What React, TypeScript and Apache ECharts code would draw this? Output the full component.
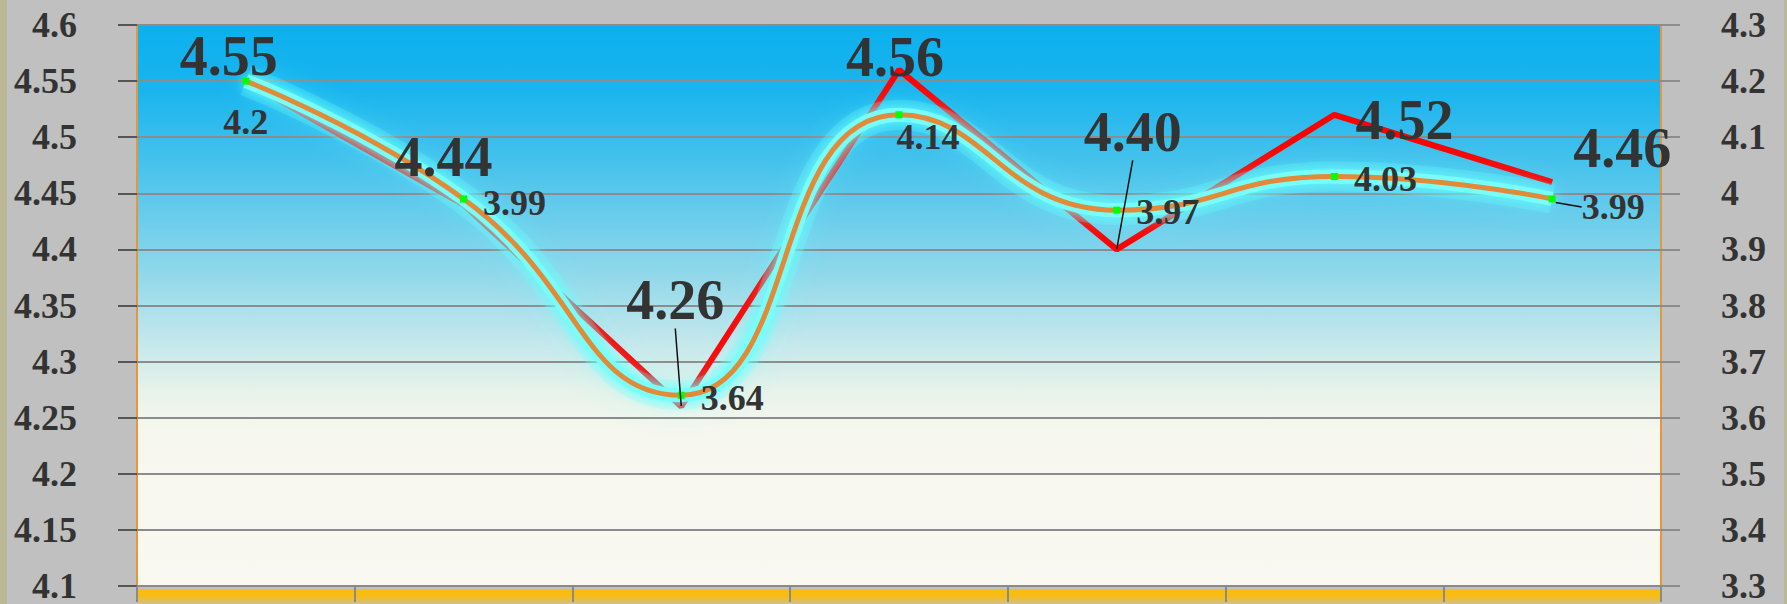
import React, { useEffect, useRef } from 'react';
import * as echarts from 'echarts';

const categories = ['1', '2', '3', '4', '5', '6', '7'];
const redValues = [4.55, 4.44, 4.26, 4.56, 4.4, 4.52, 4.46];
const orangeValues = [4.2, 3.99, 3.64, 4.14, 3.97, 4.03, 3.99];
const leftTicks = [4.1, 4.15, 4.2, 4.25, 4.3, 4.35, 4.4, 4.45, 4.5, 4.55, 4.6];
const rightTicks = [3.3, 3.4, 3.5, 3.6, 3.7, 3.8, 3.9, 4.0, 4.1, 4.2, 4.3];

// label placement (pixels, relative to the point)
const redLabelOffsets = [[-17, -25], [-20, -48], [-6, -106], [-4, -13], [16, -117], [70, 5], [70, -34]];
const orangeLabelOffsets = [[0, 41], [51, 4], [51, 3], [29, 22], [51, 2], [51, 3], [61, 8]];
const redLeaders = [2, 4];
const orangeLeaders = [6];

const FONT = '"Times New Roman", "Liberation Serif", serif';
const fmt = (v: number) => String(parseFloat(Number(v).toFixed(2)));

export default function App() {
  const ref = useRef<HTMLDivElement>(null);
  useEffect(() => {
    if (!ref.current) return;
    const chart = echarts.init(ref.current, null, { renderer: 'svg' });
    const axisLabel = { fontFamily: FONT, fontSize: 36, fontWeight: 'bold', color: '#333', margin: 60, formatter: fmt };
    chart.setOption({
      animation: false,
      backgroundColor: '#c0c0c0',
      grid: {
        left: 137, right: 126, top: 25, bottom: 16,
        show: true, borderColor: '#e8963c', borderWidth: 2,
        backgroundColor: new echarts.graphic.LinearGradient(0, 0, 0, 1, [
          { offset: 0, color: '#0cb0ee' },
          { offset: 0.12, color: '#1ab5ee' },
          { offset: 0.3, color: '#5ac8ec' },
          { offset: 0.45, color: '#93d9ea' },
          { offset: 0.56, color: '#c2e7ec' },
          { offset: 0.65, color: '#e6f2ea' },
          { offset: 0.72, color: '#f6f7ee' },
          { offset: 1, color: '#faf9f1' },
        ]),
      },
      graphic: [
        { type: 'rect', left: 0, top: 0, shape: { width: 7, height: 604 }, style: { fill: '#bbb898' } },
        { type: 'rect', left: 1784, top: 0, shape: { width: 3, height: 604 }, style: { fill: '#bbb898' } },
        {
          type: 'rect', left: 138, top: 589, z: -1, shape: { width: 1522, height: 15 },
          style: {
            fill: new echarts.graphic.LinearGradient(0, 0, 0, 1, [
              { offset: 0, color: '#fbbd08' },
              { offset: 0.5, color: '#f5bd18' },
              { offset: 1, color: '#cfc090' },
            ]),
          },
        },
      ],
      xAxis: {
        type: 'category', data: categories, boundaryGap: true,
        axisLine: { show: true, lineStyle: { color: '#8a8a8a', width: 2 } },
        axisTick: { show: true, interval: 0, length: 16, lineStyle: { color: '#8a8a8a', width: 2 } },
        axisLabel: { show: false },
        splitLine: { show: false },
      },
      yAxis: [
        {
          type: 'value', min: leftTicks[0], max: leftTicks[leftTicks.length - 1], interval: 0.05,
          axisLine: { show: false },
          axisTick: { show: true, length: 19, lineStyle: { color: '#555', width: 2 } },
          axisLabel,
          splitLine: { show: true, lineStyle: { color: '#8c8c8c', width: 2 } },
        },
        {
          type: 'value', min: rightTicks[0], max: rightTicks[rightTicks.length - 1], interval: 0.1,
          position: 'right',
          axisLine: { show: false },
          axisTick: { show: true, length: 19, lineStyle: { color: '#8c8c8c', width: 2 } },
          axisLabel,
          splitLine: { show: false },
        },
      ],
      series: [
        {
          type: 'line', yAxisIndex: 0, z: 2, silent: true,
          data: redValues, symbol: 'none',
          lineStyle: { color: '#ff0000', width: 6 },
        },
        {
          type: 'line', yAxisIndex: 1, z: 3, silent: true,
          data: orangeValues, smooth: true, symbol: 'none',
          lineStyle: { color: 'rgba(110,255,250,0.22)', width: 30, shadowBlur: 26, shadowColor: 'rgba(90,255,255,0.9)' },
        },
        {
          type: 'line', yAxisIndex: 1, z: 3, silent: true,
          data: orangeValues, smooth: true, symbol: 'none',
          lineStyle: { color: 'rgba(120,255,250,0.95)', width: 14, shadowBlur: 12, shadowColor: 'rgba(100,255,255,1)' },
        },
        {
          type: 'line', yAxisIndex: 1, z: 4,
          data: orangeValues.map((v, i) => ({ value: v, labelLine: { show: orangeLeaders.includes(i), smooth: 0.5 } })),
          smooth: true,
          symbol: 'rect', symbolSize: 7,
          itemStyle: { color: '#00ff00' },
          lineStyle: { color: '#e08b3a', width: 5 },
          label: {
            show: true, position: 'inside',
            formatter: (p: any) => fmt(p.value),
            fontFamily: FONT, fontSize: 36, fontWeight: 'bold', color: '#333',
          },
          labelLine: { show: false, lineStyle: { color: '#111', width: 1.5 } },
          labelLayout: (p: any) => ({ dx: orangeLabelOffsets[p.dataIndex][0], dy: orangeLabelOffsets[p.dataIndex][1] }),
        },
        {
          type: 'line', yAxisIndex: 0, z: 5,
          data: redValues.map((v, i) => ({ value: v, labelLine: { show: redLeaders.includes(i) } })),
          symbol: 'circle', symbolSize: 1,
          itemStyle: { color: 'rgba(0,0,0,0)' },
          lineStyle: { opacity: 0 },
          label: {
            show: true, position: 'inside',
            formatter: (p: any) => Number(p.value).toFixed(2),
            fontFamily: FONT, fontSize: 56, fontWeight: 'bold', color: '#333',
          },
          labelLine: { show: false, lineStyle: { color: '#111', width: 1.5 } },
          labelLayout: (p: any) => ({ dx: redLabelOffsets[p.dataIndex][0], dy: redLabelOffsets[p.dataIndex][1] }),
        },
      ],
    });
    return () => chart.dispose();
  }, []);
  return <div ref={ref} style={{ position: 'fixed', left: 0, top: 0, width: 1787, height: 604 }} />;
}
